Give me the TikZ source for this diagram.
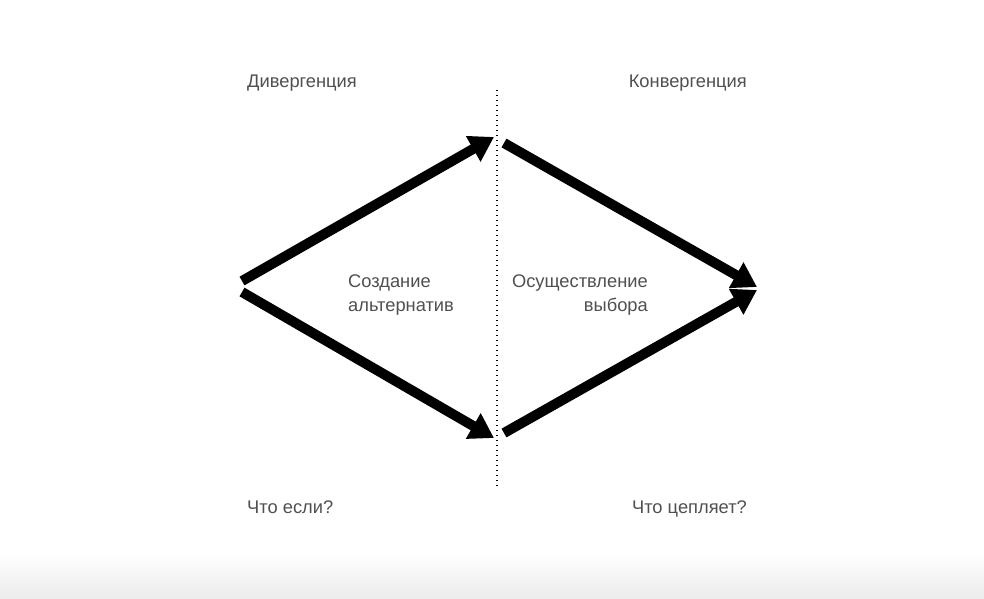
\documentclass[tikz,border=0pt]{standalone}
\usepackage{fontspec}
\setmainfont{Liberation Sans}
\usetikzlibrary{arrows.meta}
\definecolor{labelgray}{HTML}{505050}
\definecolor{floorgray}{HTML}{ECECEC}
\begin{document}
\begin{tikzpicture}[x=1pt,y=-1pt,
  label/.style={text=labelgray,font=\fontsize{18.3}{24}\selectfont,inner sep=0pt},
  bigarrow/.style={line width=10pt,-{Triangle[length=24pt,width=28pt]}},
  divider/.style={line width=1.4pt,dash pattern=on 1.4pt off 3.6pt}]
\useasboundingbox (0,0) rectangle (984,598);
\fill[white] (0,0) rectangle (984,598);
\shade[top color=white,bottom color=floorgray] (0,552) rectangle (984,598);
% dotted separator
\coordinate (top) at (497,90);
\coordinate (bottom) at (497,488);
\draw[divider] (top) -- (bottom);
% arrow ends
\coordinate (startA) at (242,281);
\coordinate (startB) at (242,292);
\coordinate (tipA) at (494,137);
\coordinate (tipB) at (494,438);
\coordinate (startC) at (504,143);
\coordinate (startD) at (504,433);
\coordinate (tipC) at (757,287);
\coordinate (tipD) at (757,290);
\draw[bigarrow] (startA) -- (tipA);
\draw[bigarrow] (startB) -- (tipB);
\draw[bigarrow] (startC) -- (tipC);
\draw[bigarrow] (startD) -- (tipD);
% labels
\node[label,anchor=base west] (div) at (247,87) {Дивергенция};
\node[label,anchor=base east] (conv) at (747,87) {Конвергенция};
\node[label,anchor=base west] (whatif) at (247,513) {Что если?};
\node[label,anchor=base east] (hook) at (747,513) {Что цепляет?};
\node[label,anchor=west,align=left] (create) at (348,295) {Создание\\альтернатив};
\node[label,anchor=east,align=right] (choose) at (648,295) {Осуществление\\выбора};
\end{tikzpicture}
\end{document}
